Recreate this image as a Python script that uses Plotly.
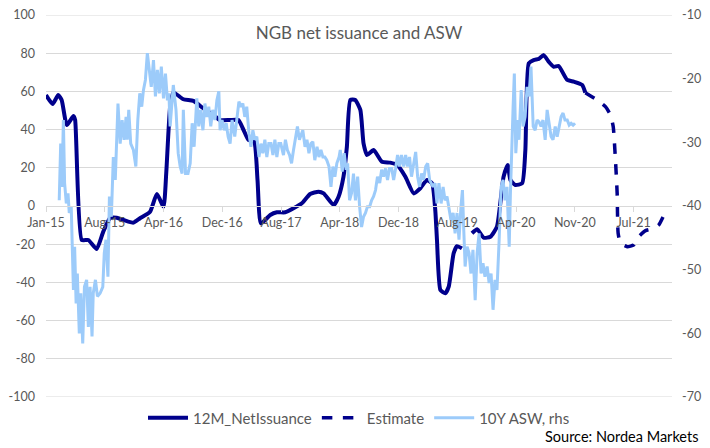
import pandas as pd
import plotly.graph_objects as go

ORIGIN = pd.Timestamp("2015-01-01")

# 12M net issuance (lhs), days since 2015-01-01
issuance_days = [
    0, 27, 50, 64, 85, 112, 119, 146, 173, 207, 234, 262, 289, 336, 357, 384,
    425, 453, 480, 491, 507, 520, 561, 602, 643, 684, 711, 752, 786, 807, 827,
    850, 864, 878, 916, 943, 977, 1011, 1045, 1079, 1113, 1134, 1175, 1195,
    1215, 1229, 1243, 1263, 1284, 1297, 1311, 1338, 1372, 1406, 1434, 1468,
    1502, 1529, 1556, 1577, 1590, 1597, 1611, 1631, 1645, 1665, 1679, 1699,
    1720, 1740, 1761, 1788, 1815, 1842, 1869, 1886, 1897, 1917, 1945, 1958,
    1972, 1992, 2013, 2033, 2053, 2074, 2094, 2129, 2156, 2190, 2203,
]
issuance = [
    58.1, 53.4, 58.1, 55.5, 42.4, 47.1, 45.0, -17.8, -17.8, -22.5, -13.4, -6.3,
    -6.1, -8.2, -8.7, -6.4, -3.0, 6.3, -0.3, 17.0, 52.0, 59.5, 55.9, 55.0,
    51.1, 47.6, 45.0, 45.0, 45.0, 39.8, 34.6, 33.7, 13.6, -9.1, -4.7, -3.3,
    -3.3, -1.2, 1.4, 6.3, 7.5, 6.6, 0.5, 4.9, 15.3, 31.0, 55.5, 55.5, 50.3,
    32.8, 26.7, 29.3, 23.2, 22.7, 21.5, 15.3, 6.6, 9.3, 13.6, 11.9, -2.1,
    -17.8, -44.0, -45.7, -42.2, -24.8, -21.0, -22.2, None, -14.3, -12.2,
    -16.6, -16.1, -10.8, 15.3, 21.5, 13.6, 11.0, 11.9, 29.3, 74.7, 76.4,
    77.0, 79.0, 75.6, 72.9, 73.3, 66.0, 65.1, 63.4, 59.3,
]

# Estimate (lhs)
estimate_days = [
    2203, 2251, 2285, 2306, 2317, 2326, 2333, 2337, 2347, 2374, 2401, 2421,
    2449, 2483, 2503, 2524,
]
estimate = [
    59.3, 55.5, 52.0, 47.6, 41.5, 24.1, 6.6, -14.3, -19.5, -21.3, -20.4,
    -16.1, -12.9, -11.7, -9.9, -4.7,
]

# 10Y ASW (rhs)
asw_days = [
    54, 60, 65, 71, 76, 83, 90, 95, 103, 112, 117, 123, 128, 136, 142, 150,
    157, 166, 173, 180, 188, 193, 202, 210, 221, 232, 238, 245, 253, 259, 267,
    275, 283, 294, 303, 311, 319, 327, 332, 338, 346, 357, 367, 375, 383, 391,
    398, 406, 414, 422, 430, 439, 447, 455, 463, 471, 480, 488, 496, 502,
    507, 520, 531, 540, 548, 556, 561, 570, 580, 589, 597, 605, 616, 624, 632,
    641, 649, 657, 665, 673, 681, 690, 698, 706, 711, 719, 728, 736, 744, 752,
    760, 771, 780, 788, 796, 804, 812, 820, 829, 837, 845, 853, 861, 870, 878,
    886, 894, 902, 910, 919, 927, 935, 943, 951, 959, 970, 978, 986, 995,
    1003, 1011, 1019, 1027, 1035,
    1049, 1058, 1066, 1074, 1082, 1090, 1098, 1107, 1115, 1123, 1131, 1139,
    1147, 1156, 1164, 1172, 1180, 1188, 1197, 1202, 1210, 1218, 1226, 1232,
    1240, 1248, 1256, 1264, 1273, 1281, 1289, 1297, 1305, 1313, 1322, 1330,
    1338, 1346, 1354, 1363, 1371, 1379, 1387, 1395, 1403, 1412, 1420, 1428,
    1436, 1444, 1452, 1461, 1469, 1477, 1485, 1493, 1502, 1510, 1518, 1526,
    1534, 1542, 1551, 1559, 1567,
    1581, 1589, 1597, 1605, 1614, 1622, 1630, 1638, 1646, 1654, 1663, 1671,
    1679, 1687, 1695, 1701, 1706, 1712, 1720, 1728, 1736, 1744, 1753, 1761,
    1769, 1777, 1785, 1793, 1802, 1810, 1818, 1826, 1834, 1842, 1851, 1859,
    1867, 1875, 1883, 1892, 1897, 1902, 1908, 1913, 1919, 1927, 1932, 1941,
    1949, 1957, 1965, 1973, 1981, 1990, 1998, 2006, 2014, 2022, 2030, 2039,
    2047, 2055, 2063, 2071, 2080, 2088, 2096, 2104, 2112, 2120, 2129, 2137,
    2145, 2153, 2161,
]
asw = [
    -39.1, -30.2, -37.0, -26.5, -36.4, -39.6, -38.0, -41.1, -40.1, -53.2,
    -46.4, -55.3, -50.6, -60.0, -53.7, -61.6, -52.7, -51.6, -59.0, -52.7,
    -60.5, -53.7, -51.6, -54.2, -53.7, -52.7, -47.4, -45.3, -51.1, -38.5,
    -41.7, -32.3, -35.9, -23.9, -30.2, -26.5, -29.6, -26.0, -29.6, -24.9,
    -30.2, -31.2, -33.8, -26.5, -22.3, -24.4, -21.8, -20.2, -16.0, -18.6,
    -21.3, -17.1, -22.8, -18.6, -22.3, -18.1, -23.1, -19.2, -23.4, -22.3,
    -27.5, -21.0, -24.9, -31.7, -33.8, -34.9, -24.9, -34.9, -34.9, -33.3,
    -27.0, -30.7, -23.1, -27.5, -24.9, -28.1, -23.9, -26.0, -24.4, -27.5,
    -24.9, -26.5, -23.4, -22.0, -28.1, -26.5, -28.1, -27.0, -29.1, -30.2,
    -26.5, -29.1, -26.0, -23.6, -24.4, -23.9, -26.0, -24.4, -28.6, -30.7,
    -28.1, -29.6, -29.1, -32.3, -30.2, -31.7, -29.6, -32.3, -30.2, -30.2,
    -32.0, -29.6, -32.3, -30.2, -30.2, -32.0, -29.6, -31.2, -32.0, -33.3,
    -31.2, -29.6, -27.5, -29.6,
    -28.1, -30.7, -29.6, -31.7, -30.2, -29.9, -32.8, -30.7, -32.3, -31.2,
    -32.3, -32.3, -32.8, -33.8, -37.0, -33.8, -35.4, -33.3, -32.3, -31.2,
    -34.6, -31.7, -34.3, -33.3, -39.1, -38.0, -34.9, -39.1, -35.4, -40.1,
    -43.3, -41.7, -41.1, -40.1, -40.1, -39.1, -38.5, -37.5, -35.4, -36.4,
    -34.3, -35.4, -34.1, -35.9, -34.1, -34.1, -35.9, -34.1, -32.0, -33.8,
    -32.0, -33.8, -32.0, -33.8, -32.3, -35.4, -33.3, -31.5, -35.4, -37.0,
    -34.9, -35.9, -33.8, -33.3, -35.9,
    -37.0, -36.4, -39.6, -36.4, -39.6, -37.0, -39.1, -38.5, -40.1, -42.2,
    -41.1, -44.3, -41.1, -45.3, -40.1, -37.5, -43.3, -49.5, -46.4, -47.4,
    -50.6, -46.9, -54.8, -47.4, -44.3, -50.6, -49.0, -51.1, -49.5, -52.1,
    -50.6, -56.3, -51.6, -53.2, -45.3, -37.0, -35.9, -39.1, -37.0, -46.4,
    -38.0, -29.6, -24.4, -19.2, -31.7, -26.5, -29.6, -21.8, -27.5, -26.0,
    -21.3, -22.8, -18.1, -27.5, -28.1, -26.5, -26.8, -27.5, -26.5, -29.6,
    -24.9, -27.0, -29.1, -29.6, -27.5, -29.1, -27.5, -26.0, -25.4, -26.5,
    -26.5, -27.3, -27.0, -27.3, -27.0,
]

lhs_ticks = [-100, -80, -60, -40, -20, 0, 20, 40, 60, 80, 100]
rhs_ticks = [-70, -60, -50, -40, -30, -20, -10]


def to_dates(days):
    return ORIGIN + pd.to_timedelta(days, unit="D")


FONT = "Lato"
GREY = "#595959"
GRID = "#d9d9d9"
DARK = "#00008c"
LIGHT = "#9ccbfa"

# the page body has an 8px default margin, so the figure is kept 8px smaller
W, H = 702, 440

fig = go.Figure()
fig.add_trace(
    go.Scatter(
        x=to_dates(issuance_days),
        y=issuance,
        name="12M_NetIssuance",
        mode="lines",
        line=dict(color=DARK, width=4, shape="spline", smoothing=0.5),
        connectgaps=False,
    )
)
fig.add_trace(
    go.Scatter(
        x=to_dates(estimate_days),
        y=estimate,
        name="Estimate",
        mode="lines",
        line=dict(color=DARK, width=3.5, dash="dash", shape="spline", smoothing=0.5),
    )
)
fig.add_trace(
    go.Scatter(
        x=to_dates(asw_days),
        y=asw,
        name="10Y ASW, rhs",
        mode="lines",
        line=dict(color=LIGHT, width=3),
        yaxis="y2",
    )
)

# plotly drops the gridlines sitting on the plot edges; draw those two by hand
for edge in (lhs_ticks[0], lhs_ticks[-1]):
    fig.add_shape(
        type="line",
        xref="paper",
        yref="y",
        x0=0,
        x1=1,
        y0=edge,
        y1=edge,
        line=dict(color=GRID, width=1),
        layer="below",
    )

fig.update_layout(
    width=W,
    height=H,
    margin=dict(l=38, r=38, t=7, b=51),
    paper_bgcolor="white",
    plot_bgcolor="white",
    font=dict(family=FONT, color=GREY, size=12),
    title=dict(
        text="NGB net issuance and ASW",
        x=0.5,
        xanchor="center",
        y=1 - 25 / H,
        yanchor="middle",
        font=dict(size=17, color=GREY),
    ),
    xaxis=dict(
        type="date",
        range=[ORIGIN, ORIGIN + pd.Timedelta(days=2557)],
        tick0="2015-01-01",
        dtick=240 * 86400000,
        tickformat="%b-%y",
        anchor="free",
        position=0.5,
        showgrid=False,
        showline=True,
        linecolor=GRID,
        linewidth=1,
        ticks="outside",
        ticklen=5,
        tickcolor=GRID,
        tickfont=dict(size=12.5, color=GREY),
        zeroline=False,
    ),
    yaxis=dict(
        range=[-100, 100],
        tickvals=lhs_ticks,
        ticktext=[str(v) for v in lhs_ticks],
        showgrid=True,
        gridcolor=GRID,
        gridwidth=1,
        zeroline=False,
        showline=False,
        ticklabelstandoff=10,
        ticklabeloverflow="allow",
        automargin=False,
        tickfont=dict(size=12.5, color=GREY),
    ),
    yaxis2=dict(
        range=[-70, -10],
        tickvals=rhs_ticks,
        ticktext=[str(v) for v in rhs_ticks],
        overlaying="y",
        side="right",
        showgrid=False,
        zeroline=False,
        showline=False,
        ticklabelstandoff=9,
        ticklabeloverflow="allow",
        automargin=False,
        tickfont=dict(size=12.5, color=GREY),
    ),
    legend=dict(
        orientation="h",
        x=0.5,
        xanchor="center",
        y=-0.055,
        yanchor="middle",
        font=dict(size=15, color=GREY),
        itemwidth=40,
        bgcolor="rgba(0,0,0,0)",
    ),
    annotations=[
        dict(
            text="Source: Nordea Markets",
            xref="paper",
            yref="paper",
            x=(700 - 46) / 626,
            y=-(436 - 397) / 382,
            xanchor="right",
            yanchor="middle",
            showarrow=False,
            font=dict(size=14.5, color="black", family=FONT),
        )
    ],
)

fig.write_html("out.html")
